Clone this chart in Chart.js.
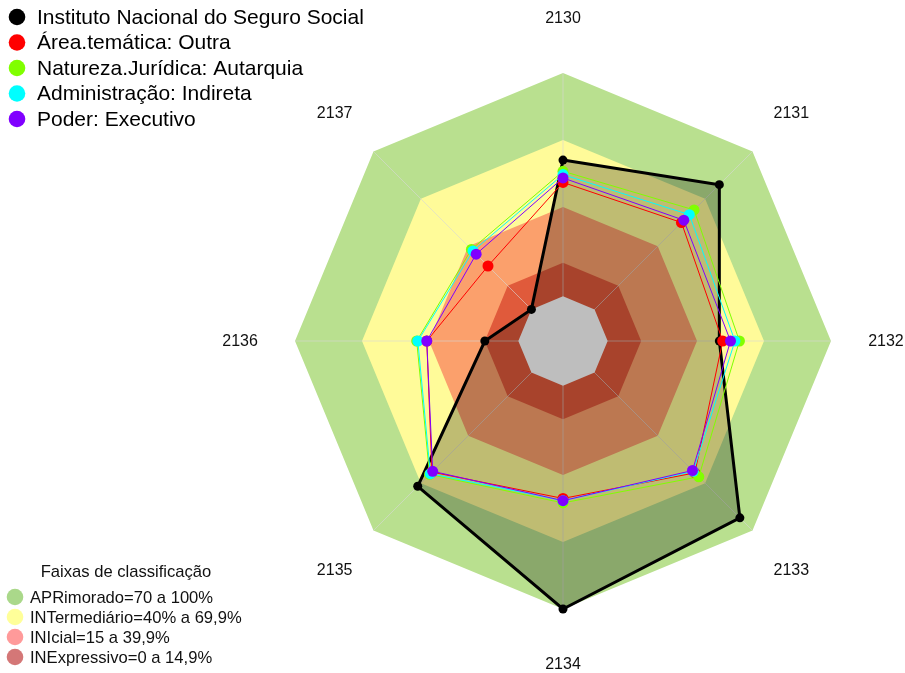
<!DOCTYPE html>
<html>
<head>
<meta charset="utf-8">
<script src="https://cdn.jsdelivr.net/npm/chart.js@4/dist/chart.umd.min.js"></script>
<style>
  html, body { margin: 0; padding: 0; background: #fff; }
  #wrap { position: relative; width: 905px; height: 673px; }
</style>
</head>
<body>
<div id="wrap"><canvas id="radar"></canvas></div>
<script>
"use strict";

const $ = (id) => document.getElementById(id);

// eixos (códigos) no sentido horário a partir do topo
const axisLabels = ["2130", "2131", "2132", "2133", "2134", "2135", "2136", "2137"];

// séries (%)
const instituto = [61, 79, 50, 92, 100, 72, 15, 0];
const areaTematica = [51, 55, 51.5, 63.5, 50.5, 63, 41, 27.5];
const naturezaJuridica = [56, 63, 59, 66, 52.5, 64.5, 45.5, 38];
const administracao = [54.5, 60, 57, 62.5, 51.5, 64, 45, 37];
const poder = [53, 56.5, 55, 62, 51.5, 62.5, 41, 35];

const seriesNames = [
  "Instituto Nacional do Seguro Social",
  "Área.temática: Outra",
  "Natureza.Jurídica: Autarquia",
  "Administração: Indireta",
  "Poder: Executivo",
];
const seriesColors = ["#000000", "#ff0000", "#80ff00", "#00ffff", "#8000ff"];

// faixas de classificação (limite superior de cada faixa)
const bandLimits = [100, 70, 40, 15];
const bandFill = ["#b9e08f", "#fffb99", "#fba06c", "#e05a3b"];
const bandLegendColors = ["#aad88a", "#ffff99", "#ff9a9a", "#d47777"];
const bandNames = [
  "APRimorado=70 a 100%",
  "INTermediário=40% a 69,9%",
  "INIcial=15 a 39,9%",
  "INExpressivo=0 a 14,9%",
];
const bandTitle = "Faixas de classificação";

const SCALE_MIN = -20;
const SCALE_MAX = 100;
const FONT = "Arial, 'Liberation Sans', sans-serif";

function bandDatasets() {
  const sets = bandLimits.map((lim, i) => ({
    label: bandNames[i],
    data: axisLabels.map(() => lim),
    backgroundColor: bandFill[i],
    borderWidth: 0,
    pointRadius: 0,
    fill: "start",
    order: 20 - i,
    clip: false,
  }));
  sets[sets.length - 1].angleLinesAfter = true;
  return sets;
}

function seriesDatasets() {
  const values = [instituto, areaTematica, naturezaJuridica, administracao, poder];
  return values.map((data, i) => ({
    label: seriesNames[i],
    data,
    borderColor: seriesColors[i],
    backgroundColor: seriesColors[i],
    pointBackgroundColor: seriesColors[i],
    pointBorderWidth: 0,
    borderWidth: i === 0 ? 3 : 1,
    pointRadius: i === 0 ? 4.5 : 5.5,
    fill: false,
    order: 5 - i,
    clip: false,
  }));
}

// sombreado da série principal, fica sob o centro cinza
function shadeDataset() {
  return {
    label: "shade",
    data: instituto,
    backgroundColor: "rgba(0,0,0,0.25)",
    borderWidth: 0,
    pointRadius: 0,
    fill: "start",
    order: 12,
    clip: false,
  };
}

function centerDataset() {
  return {
    label: "centro",
    data: axisLabels.map(() => 0),
    backgroundColor: "#bebebe",
    borderWidth: 0,
    pointRadius: 0,
    fill: "start",
    order: 10,
    clip: false,
  };
}

const angleLinesPlugin = {
  id: "bandAngleLines",
  afterDatasetDraw(chart, args) {
    if (!chart.data.datasets[args.index].angleLinesAfter) return;
    const r = chart.scales.r;
    const ctx = chart.ctx;
    ctx.save();
    ctx.strokeStyle = "rgba(215,215,215,0.6)";
    ctx.lineWidth = 1;
    for (let i = 0; i < chart.data.labels.length; i++) {
      const p = r.getPointPositionForValue(i, r.max);
      ctx.beginPath();
      ctx.moveTo(r.xCenter, r.yCenter);
      ctx.lineTo(p.x, p.y);
      ctx.stroke();
    }
    ctx.restore();
  },
};

const labelsAndLegendPlugin = {
  id: "labelsAndLegend",
  afterDraw(chart) {
    const r = chart.scales.r;
    const ctx = chart.ctx;
    ctx.save();

    // rótulos dos eixos
    ctx.fillStyle = "#111";
    ctx.font = `16px ${FONT}`;
    ctx.textAlign = "center";
    ctx.textBaseline = "middle";
    chart.data.labels.forEach((lab, i) => {
      const p = r.getPointPosition(i, r.drawingArea * 1.205);
      ctx.fillText(lab, p.x, p.y + 1);
    });

    // legenda das séries
    ctx.textAlign = "left";
    ctx.font = `21px ${FONT}`;
    seriesNames.forEach((name, i) => {
      const y = 17 + i * 25.5;
      ctx.fillStyle = seriesColors[i];
      ctx.beginPath();
      ctx.arc(17, y, 8.3, 0, Math.PI * 2);
      ctx.fill();
      ctx.fillStyle = "#000";
      ctx.fillText(name, 37, y + 1);
    });

    // legenda das faixas
    ctx.font = `16.6px ${FONT}`;
    ctx.fillStyle = "#111";
    ctx.textAlign = "center";
    ctx.fillText(bandTitle, 126, 572);
    ctx.textAlign = "left";
    bandNames.forEach((name, i) => {
      const y = 597 + i * 20;
      ctx.fillStyle = bandLegendColors[i];
      ctx.beginPath();
      ctx.arc(15, y, 8.3, 0, Math.PI * 2);
      ctx.fill();
      ctx.fillStyle = "#111";
      ctx.fillText(name, 30, y + 1);
    });

    ctx.restore();
  },
};

function initChart() {
  return new Chart($("radar"), {
    type: "radar",
    data: {
      labels: axisLabels,
      datasets: [...bandDatasets(), shadeDataset(), centerDataset(), ...seriesDatasets()],
    },
    options: {
      responsive: true,
      maintainAspectRatio: false,
      animation: false,
      layout: { padding: { left: 295, right: 74, top: 73, bottom: 64 } },
      elements: { line: { tension: 0 } },
      scales: {
        r: {
          min: SCALE_MIN,
          max: SCALE_MAX,
          beginAtZero: false,
          ticks: { display: false },
          grid: { display: false },
          angleLines: { display: false },
          pointLabels: { display: false },
        },
      },
      plugins: {
        legend: { display: false },
        tooltip: { enabled: false },
      },
    },
    plugins: [angleLinesPlugin, labelsAndLegendPlugin],
  });
}

document.addEventListener("DOMContentLoaded", initChart);
</script>
</body>
</html>
